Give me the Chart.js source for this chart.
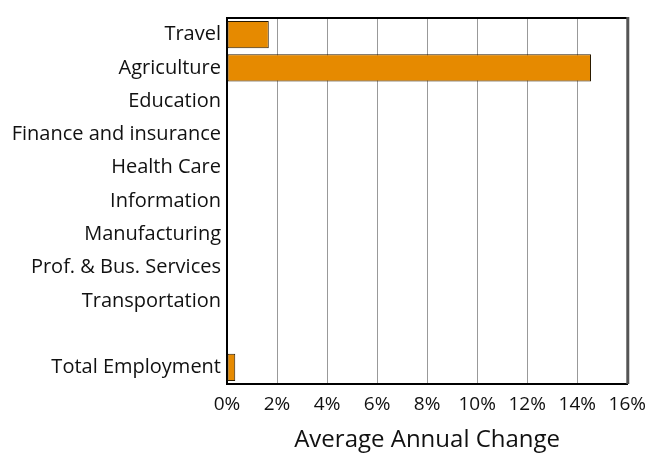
<!DOCTYPE html>
<html>
<head>
<meta charset="utf-8">
<script src="https://cdn.jsdelivr.net/npm/chart.js@4.4.1/dist/chart.umd.min.js"></script>
<style>
  html, body { margin: 0; padding: 0; background: #fff; }
  #wrap { width: 655px; height: 455px; }
</style>
</head>
<body>
<div id="wrap"><canvas id="chart"></canvas></div>
<script>
// industries, top to bottom (blank row before the total)
const sectors = ['Travel', 'Agriculture', 'Education', 'Finance and insurance', 'Health Care',
  'Information', 'Manufacturing', 'Prof. & Bus. Services', 'Transportation', '', 'Total Employment'];
// average annual change, percent
const avgChange = [1.67, 14.55, 0, 0, 0, 0, 0, 0, 0, null, 0.33];
const xTicks = [0, 2, 4, 6, 8, 10, 12, 14, 16];

const FONT = '"Open Sans", Lato, sans-serif';

// frame round the plot: thin top, heavier grey right edge
const framePlugin = {
  id: 'frame',
  afterDraw(chart) {
    const { ctx, chartArea: a } = chart;
    ctx.save();
    ctx.strokeStyle = '#000';
    ctx.lineWidth = 2;
    ctx.beginPath(); ctx.moveTo(a.left, a.top); ctx.lineTo(a.right, a.top); ctx.stroke();
    ctx.strokeStyle = '#555';
    ctx.lineWidth = 3;
    ctx.beginPath(); ctx.moveTo(a.right + 0.5, a.top - 1); ctx.lineTo(a.right + 0.5, a.bottom); ctx.stroke();
    ctx.restore();
  }
};

new Chart(document.getElementById('chart'), {
  type: 'bar',
  data: {
    labels: sectors,
    datasets: [{
      data: avgChange,
      backgroundColor: '#e68a00',
      borderColor: '#2a1a00',
      borderWidth: 1,
      borderSkipped: false,
      barPercentage: 0.82,
      categoryPercentage: 1
    }]
  },
  options: {
    indexAxis: 'y',
    responsive: true,
    maintainAspectRatio: false,
    animation: false,
    layout: { padding: { top: 7, right: 23, left: 0, bottom: 0 } },
    plugins: { legend: { display: false }, tooltip: { enabled: false } },
    scales: {
      x: {
        min: 0, max: 16,
        afterBuildTicks: (s) => { s.ticks = xTicks.map(v => ({ value: v })); },
        afterFit: (s) => { s.height = 71; },
        ticks: { color: '#111', font: { family: FONT, size: 19 }, padding: 9, callback: v => v + '%' },
        grid: { color: '#999', lineWidth: 1, drawTicks: false },
        border: { color: '#000', width: 2 },
        title: { display: true, text: 'Average Annual Change', color: '#111', font: { family: FONT, size: 24 }, padding: { top: 10, bottom: 0 } }
      },
      y: {
        afterFit: (s) => { s.width = 227; },
        ticks: { color: '#111', font: { family: FONT, size: 20 }, padding: 6 },
        grid: { display: false, drawTicks: false },
        border: { color: '#000', width: 2 }
      }
    }
  },
  plugins: [framePlugin]
});
</script>
</body>
</html>
